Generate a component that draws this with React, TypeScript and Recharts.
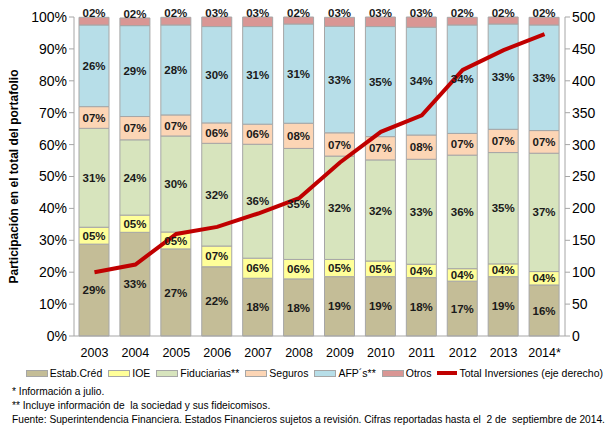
import React from "react";
import {
  ComposedChart,
  Bar,
  Line,
  XAxis,
  YAxis,
  LabelList,
} from "recharts";

const years = ["2003", "2004", "2005", "2006", "2007", "2008", "2009", "2010", "2011", "2012", "2013", "2014*"];

// participación (%) por tipo de entidad
const estabCred = [28.8, 32.5, 27.3, 21.7, 18.1, 17.9, 18.6, 18.6, 18.3, 17.2, 18.6, 16.0];
const ioe = [5.3, 5.4, 5.3, 6.5, 6.3, 6.1, 5.4, 4.9, 4.2, 3.9, 4.0, 4.2];
const fiduciarias = [31.0, 23.6, 30.1, 32.2, 35.7, 34.8, 32.4, 31.7, 32.9, 35.6, 34.9, 37.1];
const seguros = [6.8, 7.3, 6.6, 6.4, 6.3, 7.9, 7.3, 7.3, 7.6, 6.8, 7.3, 7.1];
const afps = [25.6, 28.5, 28.2, 30.2, 30.6, 31.1, 33.4, 34.5, 33.8, 34.0, 33.0, 33.1];
const otros = [2.4, 2.4, 2.4, 3.0, 3.0, 2.2, 2.8, 3.0, 3.2, 2.4, 2.2, 2.4];

// total inversiones (eje derecho)
const totalInversiones = [100, 112, 160, 171, 192, 216, 272, 320, 346, 417, 448, 473];

const leftTicks = [0, 10, 20, 30, 40, 50, 60, 70, 80, 90, 100];
const rightTicks = [0, 50, 100, 150, 200, 250, 300, 350, 400, 450, 500];

const series = [
  { key: "estab", name: "Estab.Créd", values: estabCred, color: "#C4BD97" },
  { key: "ioe", name: "IOE", values: ioe, color: "#FFFF99" },
  { key: "fid", name: "Fiduciarias**", values: fiduciarias, color: "#D7E4BD" },
  { key: "seg", name: "Seguros", values: seguros, color: "#FCD5B5" },
  { key: "afp", name: "AFP´s**", values: afps, color: "#B7DEE8" },
  { key: "otros", name: "Otros", values: otros, color: "#D99694" },
];

const lineName = "Total Inversiones (eje derecho)";
const lineColor = "#C00000";

const notes = [
  "* Información a julio.",
  "** Incluye información de  la sociedad y sus fideicomisos.",
  "Fuente: Superintendencia Financiera. Estados Financieros sujetos a revisión. Cifras reportadas hasta el  2 de  septiembre de 2014.",
];

const data = years.map((year, i) => {
  const row: Record<string, string | number> = { year, total: totalInversiones[i] };
  series.forEach((s) => {
    row[s.key] = s.values[i];
  });
  return row;
});

const font = "'Liberation Sans', Arial, sans-serif";
const pct = (v: any) => String(Math.round(Number(v))).padStart(2, "0") + "%";

export default function App() {
  return (
    <div
      style={{
        position: "absolute",
        left: 0,
        top: 0,
        width: 606,
        height: 426,
        background: "#fff",
        fontFamily: font,
      }}
    >
      <ComposedChart
        width={606}
        height={362}
        data={data}
        margin={{ top: 17, right: 0, left: 0, bottom: 0 }}
        barSize={30}
      >
        <XAxis
          dataKey="year"
          height={26}
          stroke="#A6A6A6"
          tickMargin={6}
          tick={{ fill: "#000", fontSize: 12.5, fontFamily: font }}
          tickLine={false}
        />
        <YAxis
          yAxisId="left"
          width={74}
          domain={[0, 100]}
          ticks={leftTicks}
          tickFormatter={(v) => v + "%"}
          stroke="#A6A6A6"
          tickSize={5}
          tick={{ fill: "#000", fontSize: 14, fontFamily: font }}
          label={{
            value: "Participación en el total del portafolio",
            angle: -90,
            position: "insideLeft",
            offset: 14,
            style: { fontSize: 12, fontWeight: "bold", fill: "#000", fontFamily: font, textAnchor: "middle" },
          }}
        />
        <YAxis
          yAxisId="right"
          orientation="right"
          width={41}
          domain={[0, 500]}
          ticks={rightTicks}
          stroke="#A6A6A6"
          tickSize={5}
          tick={{ fill: "#000", fontSize: 14, fontFamily: font }}
        />
        {series.map((s) => (
          <Bar
            key={s.key}
            yAxisId="left"
            dataKey={s.key}
            name={s.name}
            stackId="a"
            fill={s.color}
            stroke="#A6A6A6"
            strokeWidth={1}
            isAnimationActive={false}
          >
            <LabelList
              dataKey={s.key}
              position={s.key === "otros" ? "top" : "center"}
              offset={s.key === "otros" ? 0 : 5}
              formatter={pct}
              style={{ fontSize: 11.5, fontWeight: "bold", fill: "#1a1a1a", fontFamily: font }}
            />
          </Bar>
        ))}
        <Line
          yAxisId="right"
          dataKey="total"
          name={lineName}
          type="linear"
          stroke={lineColor}
          strokeWidth={4}
          dot={false}
          isAnimationActive={false}
        />
      </ComposedChart>

      <div
        style={{
          position: "absolute",
          top: 367,
          left: 0,
          width: 606,
          display: "flex",
          justifyContent: "flex-end",
          alignItems: "center",
          fontSize: 10.5,
          color: "#000",
          gap: 6,
          whiteSpace: "nowrap",
        }}
      >
        {series.map((s) => (
          <span key={s.key} style={{ display: "flex", alignItems: "center" }}>
            <span
              style={{
                display: "inline-block",
                width: 20,
                height: 5,
                background: s.color,
                border: "1px solid #A6A6A6",
                marginRight: 2,
              }}
            />
            {s.name}
          </span>
        ))}
        <span style={{ display: "flex", alignItems: "center", marginRight: 3 }}>
          <span
            style={{ display: "inline-block", width: 20, height: 4, background: lineColor, marginRight: 2 }}
          />
          {lineName}
        </span>
      </div>

      <div style={{ position: "absolute", top: 385, left: 12, fontSize: 10.2, lineHeight: "14px", color: "#000" }}>
        {notes.map((n) => (
          <div key={n} style={{ whiteSpace: "pre" }}>
            {n}
          </div>
        ))}
      </div>
    </div>
  );
}
